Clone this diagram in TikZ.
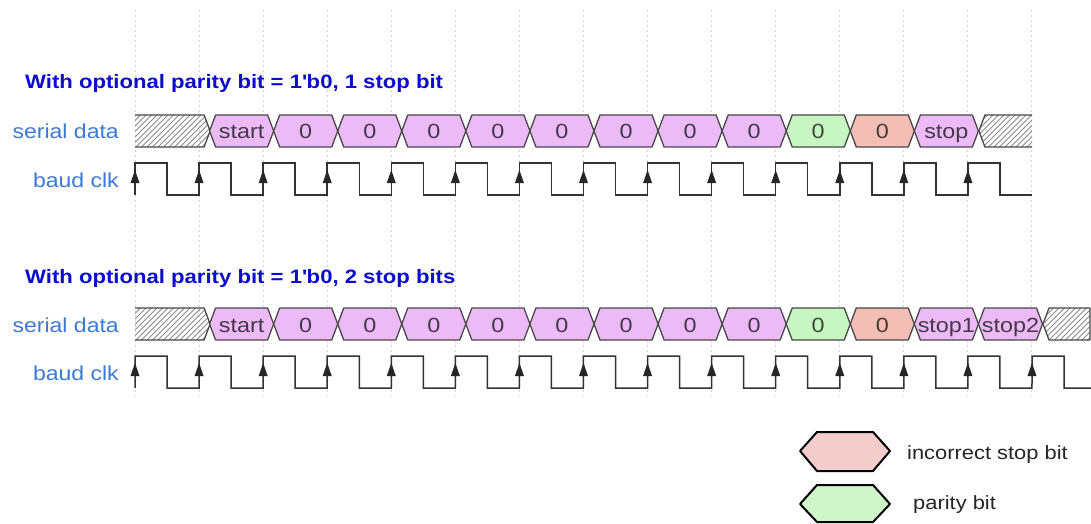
\documentclass[tikz,border=0pt]{standalone}
\usepackage{fontspec}
\setmainfont{Liberation Sans}[FakeStretch=1.14]
\definecolor{cellpurple}{RGB}{236,186,246}
\definecolor{cellgreen}{RGB}{200,246,194}
\definecolor{cellred}{RGB}{242,190,182}
\definecolor{legred}{RGB}{244,204,204}
\definecolor{leggreen}{RGB}{206,246,200}
\definecolor{titleblue}{RGB}{12,12,204}
\definecolor{labelblue}{RGB}{62,122,212}
\definecolor{edgegray}{RGB}{72,72,72}
\definecolor{gridgray}{RGB}{210,210,210}
\definecolor{hatchgray}{RGB}{140,140,140}

% period of the baud clock and position of the first data crossing
\def\P{64.07}
\def\Xzero{135}
\def\Czero{145.5}

% one data cell: #1 top of band, #2 cell index, #3 fill, #4 text, #5 name
\newcommand\bitcell[5]{%
  \pgfmathsetmacro\xa{\Czero+\P*(#2+1)}%
  \pgfmathsetmacro\xb{\xa+\P}%
  \filldraw[cellline, fill=#3] (\xa,#1+16) -- (\xa+6,#1) -- (\xb-6,#1) -- (\xb,#1+16)
    -- (\xb-6,#1+32) -- (\xa+6,#1+32) -- cycle;
  \node[celltext, anchor=base] (#5) at ({(\xa+\xb)/2},#1+24) {#4};
}

% hatched idle region: #1 top of band, #2 outline path used as clip
\newcommand\idlefill[2]{%
  \begin{scope}
    \clip #2;
    \foreach \i in {-40,-34.5,...,1120} \draw[hatchline] (\i,#1+32) -- (\i+32,#1);
  \end{scope}
}

% clock arrows at the rising edges: #1 high level, #2 last index
\newcommand\clkarrows[2]{%
  \foreach \k in {0,...,#2} {
    \pgfmathsetmacro\xe{\Xzero+\P*\k}
    \fill[black!85] (\xe,#1+7) -- (\xe-4.5,#1+20) -- (\xe+4.5,#1+20) -- cycle;
  }
}

\begin{document}
\begin{tikzpicture}[x=1pt,y=-1pt,
  gridline/.style={gridgray, line width=1pt, dash pattern=on 2pt off 3pt},
  cellline/.style={edgegray, line width=1.3pt, line join=round},
  hatchline/.style={hatchgray, line width=0.9pt},
  idleline/.style={edgegray, line width=1.3pt, line join=round},
  clkline/.style={black!80, line width=1.5pt, line join=miter},
  celltext/.style={text=black, text opacity=0.7, font=\fontsize{20.5}{24}\selectfont, inner sep=0pt},
  sigtext/.style={text=labelblue, font=\fontsize{20.2}{24}\selectfont, inner sep=0pt},
  titletext/.style={text=titleblue, font=\fontsize{19.4}{23}\selectfont\bfseries, inner sep=0pt},
  legtext/.style={text=black!85, font=\fontsize{19.2}{23}\selectfont, inner sep=0pt},
  legshape/.style={draw=black, line width=2pt, line join=round}]

\useasboundingbox[fill=white] (0,0) rectangle (1091,524);

% dotted time grid
\foreach \k in {0,...,14} {
  \pgfmathsetmacro\xg{\Xzero+\P*\k}
  \draw[gridline] (\xg,10) -- (\xg,396);
}

% ---------------- first frame: 1 stop bit ----------------
\node[titletext, anchor=base west] (title1) at (25,89) {With optional parity bit = 1\textquotesingle b0, 1 stop bit};
\node[sigtext, anchor=base east] (data1) at (119,139) {serial data};
\node[sigtext, anchor=base east] (clk1) at (119,187) {baud clk};

% idle before and after the frame
\idlefill{115}{(135,115) -- (204.1,115) -- (210.1,131) -- (204.1,147) -- (135,147) -- cycle}
\draw[idleline] (135,115) -- (204.1,115) -- (210.1,131) -- (204.1,147) -- (135,147);
\idlefill{115}{(1032,115) -- (984.9,115) -- (978.9,131) -- (984.9,147) -- (1032,147) -- cycle}
\draw[idleline] (1032,115) -- (984.9,115) -- (978.9,131) -- (984.9,147) -- (1032,147);

\bitcell{115}{0}{cellpurple}{start}{a0}
\foreach \i in {1,...,8} { \bitcell{115}{\i}{cellpurple}{0}{a\i} }
\bitcell{115}{9}{cellgreen}{0}{a9}
\bitcell{115}{10}{cellred}{0}{a10}
\bitcell{115}{11}{cellpurple}{stop}{a11}

% baud clock
\draw[clkline] (135,195) \foreach \k in {0,...,13} {
  -- ({\Xzero+\P*\k},163) -- ({\Xzero+\P*\k+\P/2},163) -- ({\Xzero+\P*\k+\P/2},195) -- ({\Xzero+\P*(\k+1)},195) };
\clkarrows{163}{13}

% ---------------- second frame: 2 stop bits ----------------
\node[titletext, anchor=base west] (title2) at (25,283) {With optional parity bit = 1\textquotesingle b0, 2 stop bits};
\node[sigtext, anchor=base east] (data2) at (119,332) {serial data};
\node[sigtext, anchor=base east] (clk2) at (119,380) {baud clk};

\idlefill{308}{(135,308) -- (204.1,308) -- (210.1,324) -- (204.1,340) -- (135,340) -- cycle}
\draw[idleline] (135,308) -- (204.1,308) -- (210.1,324) -- (204.1,340) -- (135,340);
\idlefill{308}{(1090,308) -- (1049,308) -- (1043,324) -- (1049,340) -- (1090,340) -- cycle}
\draw[idleline] (1090,308) -- (1049,308) -- (1043,324) -- (1049,340) -- (1090,340) -- cycle;

\bitcell{308}{0}{cellpurple}{start}{b0}
\foreach \i in {1,...,8} { \bitcell{308}{\i}{cellpurple}{0}{b\i} }
\bitcell{308}{9}{cellgreen}{0}{b9}
\bitcell{308}{10}{cellred}{0}{b10}
\bitcell{308}{11}{cellpurple}{stop1}{b11}
\bitcell{308}{12}{cellpurple}{stop2}{b12}

\draw[clkline] (135,388) \foreach \k in {0,...,13} {
  -- ({\Xzero+\P*\k},356) -- ({\Xzero+\P*\k+\P/2},356) -- ({\Xzero+\P*\k+\P/2},388) -- ({\Xzero+\P*(\k+1)},388) }
  -- (1032,356) -- (1064,356) -- (1064,388) -- (1091,388);
\clkarrows{356}{14}

% ---------------- legend ----------------
\filldraw[legshape, fill=legred] (800,451) -- (817,432) -- (873,432) -- (890,451) -- (873,471) -- (817,471) -- cycle;
\node[legtext, anchor=west] (legred) at (907,455) {incorrect stop bit};
\filldraw[legshape, fill=leggreen] (800,504) -- (817,485) -- (873,485) -- (890,504) -- (873,522) -- (817,522) -- cycle;
\node[legtext, anchor=west] (leggreen) at (913,505) {parity bit};

\end{tikzpicture}
\end{document}
